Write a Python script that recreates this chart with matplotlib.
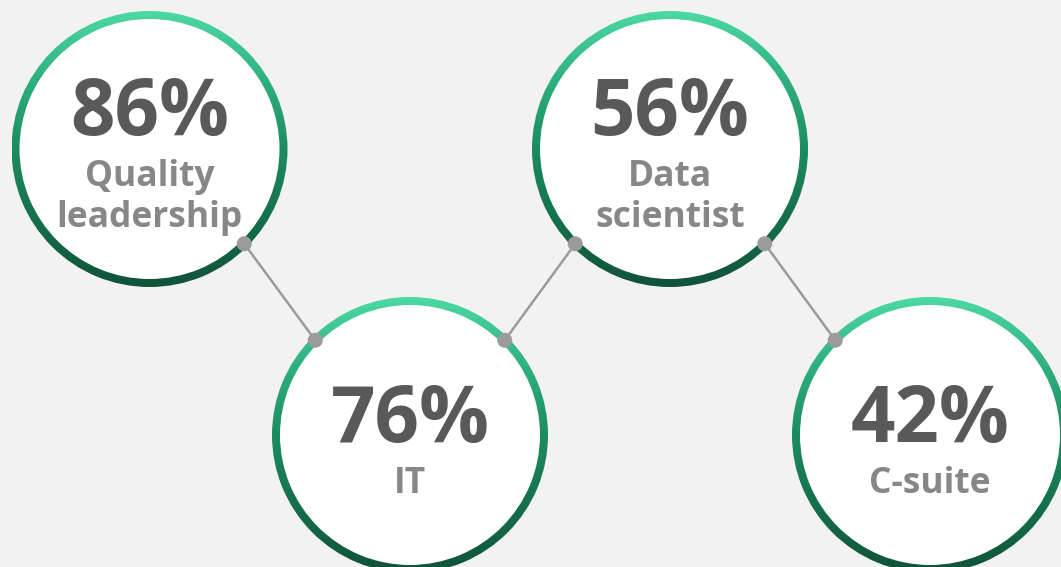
import numpy as np
import matplotlib
matplotlib.use("Agg")
import matplotlib.pyplot as plt
from matplotlib.patches import Circle, Wedge
from matplotlib.colors import LinearSegmentedColormap

# ---- data ----
values = ["86%", "76%", "56%", "42%"]
labels = ["Quality\nleadership", "IT", "Data\nscientist", "C-suite"]

# ---- layout / style ----
W, H = 1061, 567
centers = [(149.5, 149), (410, 435), (670, 149), (930, 435)]
R_OUT = 138
RING = 8
bg = "#f2f2f2"
num_color = "#595959"
lab_color = "#878787"
conn_color = "#9b9b9b"

cmap = LinearSegmentedColormap.from_list(
    "ring", ["#4cd9a3", "#2fb07f", "#1c8c60", "#15704c", "#10523a"])

fig = plt.figure(figsize=(W / 100, H / 100), dpi=100)
fig.patch.set_facecolor(bg)
ax = fig.add_axes([0, 0, 1, 1])
ax.set_xlim(0, W)
ax.set_ylim(H, 0)
ax.set_aspect("equal")
ax.axis("off")
ax.set_facecolor(bg)

font = ["Open Sans", "DejaVu Sans"]

grad = np.linspace(0, 1, 256).reshape(-1, 1)

for (cx, cy), val, lab in zip(centers, values, labels):
    ax.add_patch(Circle((cx, cy), R_OUT - RING / 2, facecolor="white",
                        edgecolor="none", zorder=1))
    ring = Wedge((cx, cy), R_OUT, 0, 360, width=RING, facecolor="none",
                 edgecolor="none", zorder=2)
    ax.add_patch(ring)
    im = ax.imshow(grad, cmap=cmap, aspect="auto",
                   extent=(cx - R_OUT, cx + R_OUT, cy + R_OUT, cy - R_OUT),
                   zorder=2, interpolation="bilinear")
    im.set_clip_path(ring)

    lines = lab.split("\n")
    if len(lines) == 2:
        nb = cy - 14
        lbs = [cy + 37, cy + 78]
    else:
        nb = cy + 7
        lbs = [cy + 58]
    ax.text(cx, nb, val, ha="center", va="baseline", fontsize=56,
            fontweight="bold", color=num_color, family=font, zorder=5)
    for ln, b in zip(lines, lbs):
        ax.text(cx, b, ln, ha="center", va="baseline", fontsize=25.5,
                fontweight="bold", color=lab_color, family=font, zorder=5)

# connectors between consecutive circles
r_mid = R_OUT - RING / 2
for (x0, y0), (x1, y1) in zip(centers[:-1], centers[1:]):
    sx = np.sign(x1 - x0)
    sy = np.sign(y1 - y0)
    p0 = (x0 + sx * r_mid * np.cos(np.pi / 4), y0 + sy * r_mid * np.sin(np.pi / 4))
    p1 = (x1 - sx * r_mid * np.cos(np.pi / 4), y1 - sy * r_mid * np.sin(np.pi / 4))
    ax.plot([p0[0], p1[0]], [p0[1], p1[1]], color=conn_color, lw=1.8,
            zorder=3, solid_capstyle="round")
    for p in (p0, p1):
        ax.add_patch(Circle(p, 7.5, facecolor=conn_color, edgecolor="none",
                            zorder=4))

fig.savefig("out.png", dpi=100, facecolor=bg)
